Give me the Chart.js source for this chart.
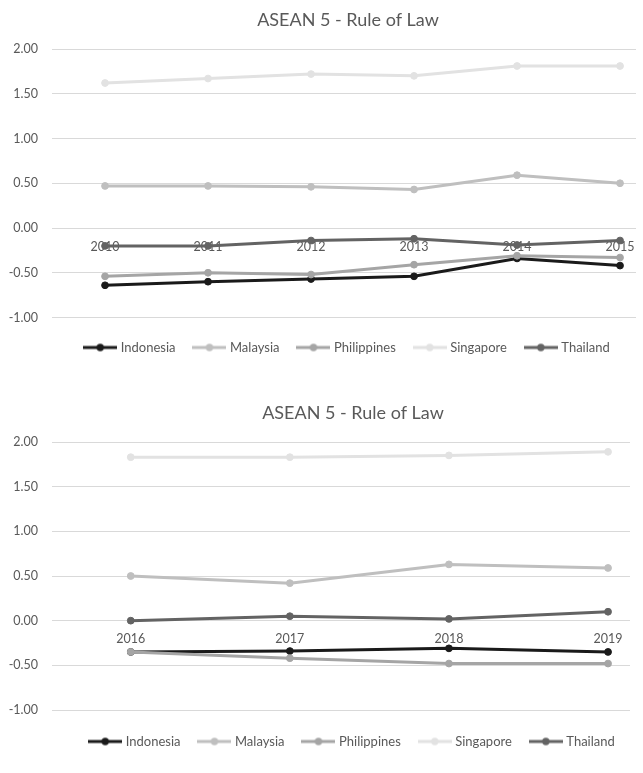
<!DOCTYPE html>
<html>
<head>
<meta charset="utf-8">
<script src="https://cdn.jsdelivr.net/npm/chart.js@4"></script>
<style>
  html, body { margin: 0; padding: 0; background: #ffffff; }
  body { width: 643px; height: 773px; overflow: hidden; position: relative; }
  .box { position: absolute; left: 0; }
</style>
</head>
<body>
<div class="box" id="box1" style="top:0px;width:696px;height:364px"><canvas id="chart1"></canvas></div>
<div class="box" id="box2" style="top:392.7px;width:706px;height:365px"><canvas id="chart2"></canvas></div>
<script>
// Rule of Law estimates, ASEAN 5
const countries = ['Indonesia', 'Malaysia', 'Philippines', 'Singapore', 'Thailand'];
const seriesColors = ['#1a1a1a', '#bfbfbf', '#a5a5a5', '#e2e2e2', '#636363'];

const years1 = ['2010', '2011', '2012', '2013', '2014', '2015'];
const indonesia1   = [-0.64, -0.60, -0.57, -0.54, -0.34, -0.42];
const malaysia1    = [0.47, 0.47, 0.46, 0.43, 0.59, 0.50];
const philippines1 = [-0.54, -0.50, -0.52, -0.41, -0.31, -0.33];
const singapore1   = [1.62, 1.67, 1.72, 1.70, 1.81, 1.81];
const thailand1    = [-0.20, -0.20, -0.14, -0.12, -0.19, -0.14];

const years2 = ['2016', '2017', '2018', '2019'];
const indonesia2   = [-0.35, -0.34, -0.31, -0.35];
const malaysia2    = [0.50, 0.42, 0.63, 0.59];
const philippines2 = [-0.35, -0.42, -0.48, -0.48];
const singapore2   = [1.83, 1.83, 1.85, 1.89];
const thailand2    = [0.00, 0.05, 0.02, 0.10];

const yTicks = [-1.0, -0.5, 0.0, 0.5, 1.0, 1.5, 2.0];

const FONT = 'Lato, "Open Sans", sans-serif';
const TEXT = '#595959';

// legend marker: short line with a dot in the middle
function legendMarker(color) {
  const c = document.createElement('canvas');
  c.width = 34; c.height = 10;
  const g = c.getContext('2d');
  g.strokeStyle = color; g.lineWidth = 3;
  g.beginPath(); g.moveTo(0, 5); g.lineTo(34, 5); g.stroke();
  g.fillStyle = color;
  g.beginPath(); g.arc(17, 5, 3.7, 0, Math.PI * 2); g.fill();
  return c;
}

function makeChart(id, years, series, xMin, xMax, padRight, padBottom) {
  const datasets = series.map((vals, i) => ({
    label: countries[i],
    data: years.map((_, k) => ({ x: k, y: vals[k] })),
    borderColor: seriesColors[i],
    backgroundColor: seriesColors[i],
    pointBackgroundColor: seriesColors[i],
    pointBorderColor: seriesColors[i],
    borderWidth: 3,
    pointRadius: 3.4,
    pointBorderWidth: 1,
    tension: 0,
    order: series.length - i,
    xAxisID: 'x',
    yAxisID: 'y'
  }));

  return new Chart(document.getElementById(id), {
    type: 'line',
    data: { datasets },
    options: {
      responsive: true,
      maintainAspectRatio: false,
      animation: false,
      layout: { padding: 0 },
      plugins: {
        title: {
          display: true,
          text: 'ASEAN 5 - Rule of Law',
          color: TEXT,
          font: { family: FONT, size: 18, weight: 'normal' },
          padding: { top: 9.2, bottom: 18.2 }
        },
        legend: {
          display: true,
          position: 'bottom',
          labels: {
            usePointStyle: true,
            pointStyleWidth: 28,
            padding: 20,
            color: TEXT,
            font: { family: FONT, size: 13 },
            sort: (a, b) => a.datasetIndex - b.datasetIndex,
            generateLabels(chart) {
              const items = Chart.defaults.plugins.legend.labels.generateLabels(chart);
              items.forEach(it => { it.pointStyle = legendMarker(seriesColors[it.datasetIndex]); });
              return items;
            }
          }
        },
        tooltip: { enabled: false }
      },
      scales: {
        x: {
          type: 'linear',
          position: { y: 0 },
          min: xMin,
          max: xMax,
          grid: { display: false, drawTicks: false },
          border: { display: false },
          afterBuildTicks: s => { s.ticks = years.map((_, k) => ({ value: k })); },
          ticks: {
            autoSkip: false,
            maxRotation: 0,
            padding: 11,
            color: TEXT,
            font: { family: FONT, size: 12.5 },
            callback: v => years[v]
          }
        },
        y: {
          type: 'linear',
          position: 'left',
          min: -1,
          max: 2,
          afterBuildTicks: s => { s.ticks = yTicks.map(v => ({ value: v })); },
          afterFit: s => { s.width = 52; },
          grid: { color: '#d9d9d9', lineWidth: 1, drawTicks: false },
          border: { display: false },
          ticks: {
            padding: 14,
            color: TEXT,
            font: { family: FONT, size: 12.5 },
            callback: v => v.toFixed(2)
          }
        },
        padR: {
          type: 'linear',
          position: 'right',
          display: true,
          grid: { display: false, drawTicks: false },
          border: { display: false },
          ticks: { display: false },
          afterFit: s => { s.width = padRight; }
        },
        padB: {
          type: 'linear',
          position: 'bottom',
          display: true,
          grid: { display: false, drawTicks: false },
          border: { display: false },
          ticks: { display: false },
          afterFit: s => { s.height = padBottom; }
        }
      }
    }
  });
}

makeChart('chart1', years1,
  [indonesia1, malaysia1, philippines1, singapore1, thailand1],
  -0.515, 5.155, 60, 3.5);

makeChart('chart2', years2,
  [indonesia2, malaysia2, philippines2, singapore2, thailand2],
  -0.495, 3.138, 76, 5);
</script>
</body>
</html>
